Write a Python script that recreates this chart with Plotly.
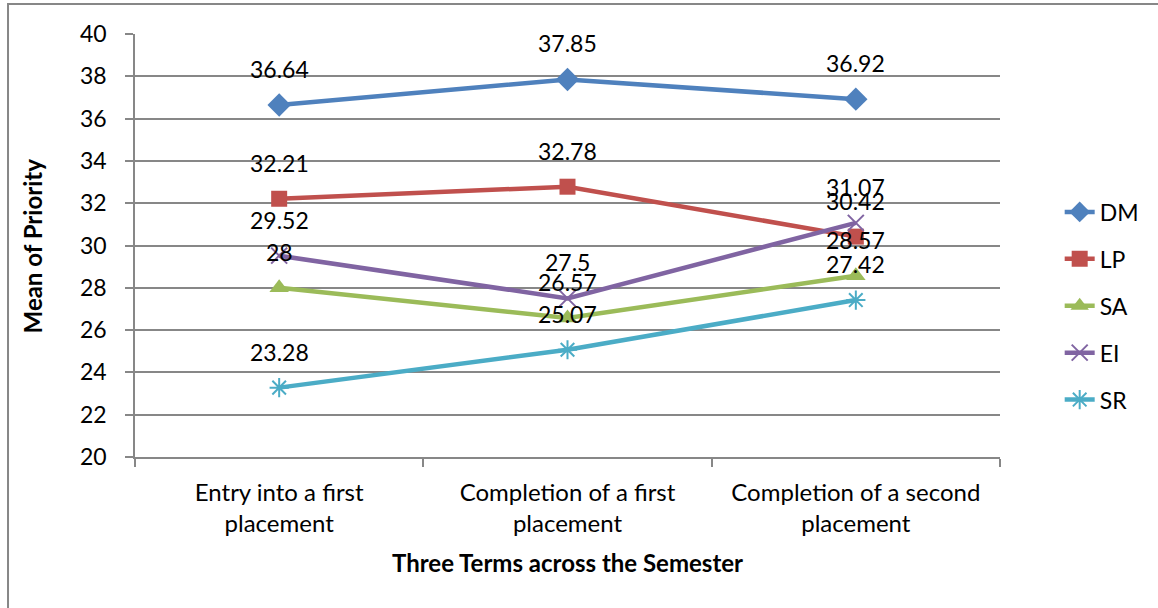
import plotly.graph_objects as go

categories = ["Entry into a first<br>placement", "Completion of a first<br>placement", "Completion of a second<br>placement"]
series_names = ["DM", "LP", "SA", "EI", "SR"]
dm = [36.64, 37.85, 36.92]
lp = [32.21, 32.78, 30.42]
sa = [28, 26.57, 28.57]
ei = [29.52, 27.5, 31.07]
sr = [23.28, 25.07, 27.42]
y_ticks = [20, 22, 24, 26, 28, 30, 32, 34, 36, 38, 40]

colors = ["#4F81BD", "#C0504D", "#9BBB59", "#8064A2", "#4BACC6"]
symbols = ["diamond", "square", "triangle-up", "x-thin-open", "asterisk-open"]
sizes = [18, 16, 17, 16, 16]
values = [dm, lp, sa, ei, sr]

FONT = "Lato, Carlito, Calibri, sans-serif"
fig = go.Figure()
for name, vals, c, s, sz in zip(series_names, values, colors, symbols, sizes):
    open_sym = s.endswith("open")
    fig.add_trace(go.Scatter(
        x=categories, y=vals, name=name, mode="lines+markers",
        legendgroup=name,
        line=dict(color=c, width=4.5),
        marker=dict(symbol=s, size=sz, color=c,
                    line=dict(color=c, width=2 if open_sym else 0)),
    ))

annotations = []
for vals in values:
    for cat, v in zip(categories, vals):
        annotations.append(dict(x=cat, y=v, xref="x", yref="y", text=f"{v:g}",
                                showarrow=False, yshift=36, yanchor="middle",
                                font=dict(size=23, color="black", family=FONT)))
annotations.append(dict(x=-0.118, y=0.5, xref="paper", yref="paper", text="<b>Mean of Priority</b>",
                        xanchor="center", yanchor="middle",
                        textangle=-90, showarrow=False, font=dict(size=24, color="black", family=FONT)))
annotations.append(dict(x=0.5, y=-0.25, xref="paper", yref="paper", text="<b>Three Terms across the Semester</b>",
                        showarrow=False, xanchor="center", yanchor="middle",
                        font=dict(size=24, color="black", family=FONT)))

fig.update_layout(
    width=1158, height=608,
    margin=dict(l=135, r=158, t=34, b=151),
    paper_bgcolor="white", plot_bgcolor="white",
    font=dict(family=FONT, size=22, color="black"),
    annotations=annotations,
    showlegend=True,
    legend=dict(x=1.069, xanchor="left", y=0.357, yanchor="middle",
                font=dict(size=23, family=FONT), tracegroupgap=14,
                bgcolor="rgba(0,0,0,0)"),
    shapes=[dict(type="rect", xref="paper", yref="paper",
                 x0=-0.1468, x1=1.5, y0=-0.6, y1=1.0709,
                 line=dict(color="#878787", width=2), fillcolor="rgba(0,0,0,0)", layer="below")],
)
fig.update_xaxes(type="category", range=[-0.5, 2.5], tickson="boundaries",
                 ticks="outside", ticklen=8, tickcolor="#878787", tickwidth=1.5,
                 showline=True, linecolor="#878787", linewidth=1.5, showgrid=False,
                 ticklabelstandoff=13,
                 tickfont=dict(size=24, family=FONT))
fig.update_yaxes(range=[20, 40], tickvals=y_ticks, ticks="outside", ticklen=8,
                 tickcolor="#878787", tickwidth=1.5,
                 showline=True, linecolor="#878787", linewidth=1.5,
                 showgrid=True, gridcolor="#878787", gridwidth=1.5,
                 ticklabelstandoff=14,
                 zeroline=False, tickfont=dict(size=23, family=FONT))

fig.write_html("out.html", config={"displayModeBar": False},
               post_script="document.body.style.margin='0';")
